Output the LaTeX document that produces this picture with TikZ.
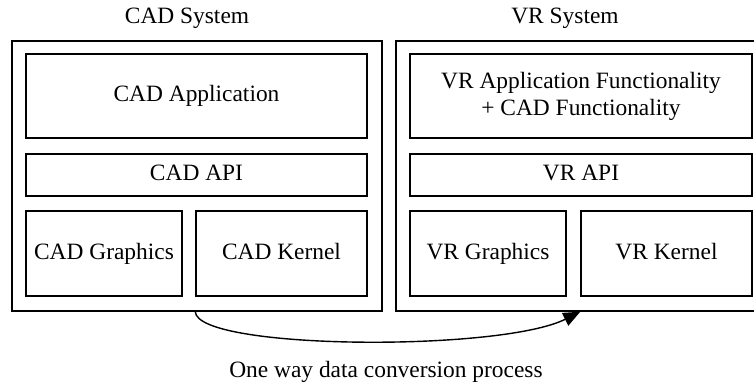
\documentclass[tikz,border=0pt]{standalone}
\usepackage{fontspec}
\setmainfont{Liberation Serif}
\usetikzlibrary{arrows.meta}
\begin{document}
\begin{tikzpicture}[x=1bp,y=-1bp,
  box/.style={draw, line width=1.4bp, inner sep=0pt, align=center, font=\fontsize{23.5}{27}\selectfont},
  onebox/.style={box, text height=16bp, text depth=5bp},
  lbl/.style={inner sep=0pt, font=\fontsize{23.5}{27}\selectfont},
  conv/.style={line width=1.4bp, -{Triangle[length=17bp,width=14bp]}}]
\useasboundingbox (0,0) rectangle (754,383);
\begin{scope}
\clip (0,0) rectangle (754,383);
% CAD system
\node[box, minimum width=370bp, minimum height=270bp] (cadsys) at (197,176) {};
\node[onebox, minimum width=341bp, minimum height=84bp] (cadapp) at (196.5,96) {CAD Application};
\node[onebox, minimum width=341bp, minimum height=42bp] (cadapi) at (196.5,175) {CAD API};
\node[onebox, minimum width=156bp, minimum height=85bp] (cadgfx) at (104,253.5) {CAD Graphics};
\node[onebox, minimum width=171bp, minimum height=85bp] (cadker) at (281.5,253.5) {CAD Kernel};
% VR system
\node[box, minimum width=370bp, minimum height=270bp] (vrsys) at (581,176) {};
\node[box, minimum width=342bp, minimum height=84bp] (vrapp) at (581,96) {VR Application Functionality\\+ CAD Functionality};
\node[onebox, minimum width=342bp, minimum height=42bp] (vrapi) at (581,175) {VR API};
\node[onebox, minimum width=156bp, minimum height=85bp] (vrgfx) at (488,253.5) {VR Graphics};
\node[onebox, minimum width=171bp, minimum height=85bp] (vrker) at (666.5,253.5) {VR Kernel};
\end{scope}
% titles
\node[lbl] (cadtitle) at (187,18) {CAD System};
\node[lbl] (vrtitle) at (565,18) {VR System};
\node[lbl] (convlbl) at (386,372) {One way data conversion process};
% conversion arrow
\coordinate (cstart) at (cadsys.south -| cadker.west);
\coordinate (cend) at (vrsys.south -| vrker.west);
\draw[conv] (cstart) .. controls (197,350) and (500,352) .. (cend);
\end{tikzpicture}
\end{document}
